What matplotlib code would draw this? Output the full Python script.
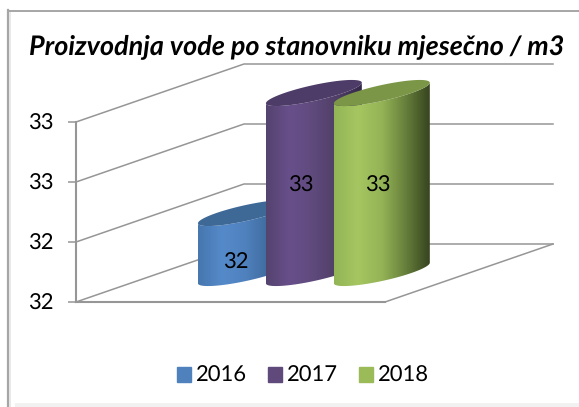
import numpy as np
import matplotlib
matplotlib.use('Agg')
import matplotlib.pyplot as plt
from matplotlib.colors import LinearSegmentedColormap
from matplotlib.patches import Polygon, Patch, Rectangle

plt.rcParams['font.family'] = ['Lato', 'DejaVu Sans']
plt.rcParams['text.hinting'] = 'none'
plt.rcParams['text.hinting_factor'] = 1

years = ['2016', '2017', '2018']
values = [32.2, 33.0, 33.0]
bar_pos = [0.278, 0.498, 0.718]
y_ticks = [31.8, 32.2, 32.6, 33.0]
y_labels = ['32', '32', '33', '33']
title = 'Proizvodnja vode po stanovniku mjesečno / m3'

legend_colors = ['#4f81bd', '#604a7b', '#9bbb59']
top_colors = ['#3e6895', '#4e3c68', '#7b9647']
body_stops = [
    ['#4677ad', '#558aca', '#4f81bd', '#3f6a9c', '#2c4a6e'],
    ['#55436f', '#684f8b', '#5f4a7c', '#4f3e66', '#33284a'],
    ['#94b556', '#a5c661', '#94b356', '#667f3b', '#37441f'],
]
label_offsets = [(-10, -20), (-13, -3), (-4, -3)]

W, H = 579, 407
fig = plt.figure(figsize=(W / 100, H / 100), dpi=100)

# frame of the chart area
fig.add_artist(Rectangle((15 / W, 0), 1, 4 / H, transform=fig.transFigure, color='#f1f1f1', lw=0))
fig.add_artist(plt.Line2D([8 / W, 8 / W], [0, 1 - 10 / H], color='#a6a6a6', lw=1.6))
fig.add_artist(plt.Line2D([10 / W, 10 / W], [0, 1 - 11 / H], color='#e4e4e4', lw=1.2))
fig.add_artist(plt.Line2D([8 / W, 1], [1 - 10.5 / H, 1 - 10.5 / H], color='#a6a6a6', lw=1.4))

ax = fig.add_axes([76 / W, 1 - 302 / H, 309 / W, 180 / H])
ax.set_xlim(0, 1)
ax.set_ylim(y_ticks[0], y_ticks[-1])
ax.patch.set_visible(False)

# how far one full step into the chart depth moves in data units
dx = 168 / 309
dy = 58 / 150
grid = '#969696'

for v in y_ticks:
    ax.plot([0, dx, 1 + dx], [v, v + dy, v + dy], color=grid, lw=1.1, clip_on=False, zorder=1)
base = y_ticks[0]
ax.plot([1, 1 + dx], [base, base + dy], color=grid, lw=1.1, clip_on=False, zorder=1)

bar_w = 59 / 309
depth = 0.45
t0 = np.arctan2(depth * dx, bar_w)


def ellipse(cx, v, t):
    x = cx + 0.5 * dx + 0.5 * bar_w * np.cos(t) + 0.5 * depth * dx * np.sin(t)
    y = v + 0.5 * dy + 0.5 * depth * dy * np.sin(t)
    return np.column_stack([x, y])


for i in range(len(values)):
    front = np.linspace(t0, t0 - np.pi, 60)
    lower = ellipse(bar_pos[i], base, front)
    upper = ellipse(bar_pos[i], values[i], front[::-1])
    outline = Polygon(np.vstack([lower, upper]), closed=True, transform=ax.transData,
                      fc='none', ec='none')
    ax.add_patch(outline)
    cmap = LinearSegmentedColormap.from_list('body' + str(i), body_stops[i])
    left = lower[:, 0].min()
    right = lower[:, 0].max()
    im = ax.imshow(np.linspace(0, 1, 200).reshape(1, -1), cmap=cmap, aspect='auto',
                   extent=(left, right, base, values[i] + dy), zorder=3 + i, interpolation='bilinear')
    im.set_clip_box(fig.bbox)
    im.set_clip_path(outline)
    cap = Polygon(ellipse(bar_pos[i], values[i], np.linspace(0, 2 * np.pi, 120)), closed=True,
                  fc=top_colors[i], ec='none', clip_on=False, zorder=3 + i)
    ax.add_patch(cap)
    ax.annotate(str(round(values[i])), xy=(bar_pos[i] + 0.5 * dx, (base + values[i]) / 2 + 0.5 * dy),
                xytext=label_offsets[i], textcoords='offset pixels', ha='center', va='center',
                fontsize=16, color='black', zorder=10, annotation_clip=False)

ax.set_xlim(0, 1)
ax.set_ylim(y_ticks[0], y_ticks[-1])
ax.set_xticks([])
ax.set_yticks(y_ticks)
ax.set_yticklabels(y_labels, fontsize=16)
ax.tick_params(axis='y', length=5.5, width=1.1, color=grid, pad=11)
ax.spines['top'].set_visible(False)
ax.spines['right'].set_visible(False)
ax.spines['left'].set_color(grid)
ax.spines['left'].set_linewidth(1.5)
ax.spines['bottom'].set_color(grid)
ax.spines['bottom'].set_linewidth(1.5)

fig.text(297 / W, 1 - 47 / H, title, ha='center', va='center', fontsize=19.4,
         fontweight='bold', fontstyle='italic', color='black')

handles = [Patch(color=c, label=y) for c, y in zip(legend_colors, years)]
fig.legend(handles=handles, loc='center', bbox_to_anchor=(303 / W, 1 - 376 / H), ncol=3, frameon=False,
           fontsize=15.5, handlelength=0.65, handleheight=0.65, handletextpad=0.2, columnspacing=1.0)

fig.savefig('out.png', dpi=100)
